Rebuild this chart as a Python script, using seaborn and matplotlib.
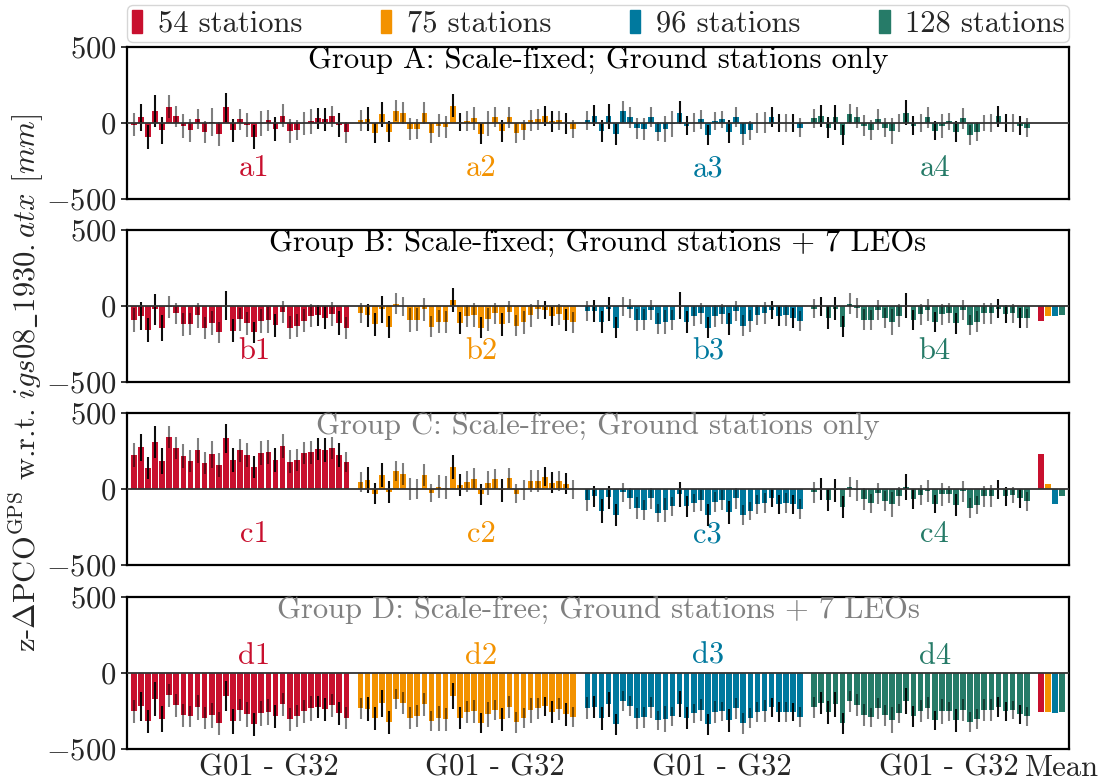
#!/usr/bin/env python3
"""
z-PCO estimates of the GPS satellites for four network sizes,
four solution groups, with mean values per network.
"""

import numpy as np
import pandas as pd
import matplotlib
matplotlib.use("Agg")
import matplotlib.pyplot as plt
import seaborn as sns

sns.set_style("white")
plt.rcParams['font.family'] = ['cmr10', 'DejaVu Serif']
plt.rcParams['mathtext.fontset'] = 'cm'
plt.rcParams['axes.formatter.use_mathtext'] = True
plt.rcParams['axes.unicode_minus'] = True

# ---------------------------------------------------------------------------
# data [mm]: 31 satellites (G01 - G32) per network, 4 networks per group
# ---------------------------------------------------------------------------
stations = ['54 stations', '75 stations', '96 stations', '128 stations']
colors = ['#c8102e', '#f39200', '#00799e', '#267b68']
group_titles = ['Group A: Scale-fixed; Ground stations only',
                'Group B: Scale-fixed; Ground stations + 7 LEOs',
                'Group C: Scale-free; Ground stations only',
                'Group D: Scale-free; Ground stations + 7 LEOs']
title_colors = ['black', 'black', '#808080', '#808080']
panel_letters = ['a', 'b', 'c', 'd']
xtick_labels = ['G01 - G32', 'G01 - G32', 'G01 - G32', 'G01 - G32', 'Mean']

# Group A
a1 = [-10, 37, -91, 76, -48, 108, 43, -20, -48, 24, -61, 5, -72, 102, -48, 24,
      -13, -91, -3, 17, -41, 48, -52, -48, -2, 11, 30, 24, 43, -13, -61]
a1_err = [75, 89, 80, 105, 87, 73, 70, 78, 74, 65, 72, 92, 80, 95, 76, 70,
          78, 78, 83, 70, 80, 75, 77, 65, 74, 83, 68, 76, 70, 80, 70]
a2 = [17, 24, -65, 56, -56, 82, 65, -39, -39, 65, -65, -17, -26, 115, 5, 11,
      30, -74, -3, 37, -52, 37, -65, -48, 17, 24, 48, 11, 17, -3, -39]
a2_err = [70, 78, 65, 85, 70, 70, 70, 72, 68, 70, 65, 76, 70, 78, 59, 65,
          74, 67, 80, 65, 72, 70, 68, 65, 70, 68, 67, 70, 65, 72, 60]
a3 = [17, 48, -52, 43, -74, 76, 37, -35, -39, 37, -56, -39, -5, 69, -17, 3,
      24, -78, 11, 24, -56, 37, -74, -48, 0, 2, 37, 0, 0, 0, -30]
a3_err = [65, 70, 70, 80, 70, 67, 67, 70, 72, 65, 65, 83, 85, 78, 65, 62,
          62, 67, 60, 58, 77, 65, 72, 63, 65, 70, 65, 60, 60, 62, 62]
a4 = [30, 48, -30, 37, -78, 61, 37, -17, -43, 24, -30, -52, 0, 69, -17, 0,
      37, -52, -17, 11, -56, 30, -78, -56, 0, 0, 43, 0, 0, -17, -30]
a4_err = [65, 72, 70, 83, 65, 67, 67, 70, 66, 70, 63, 87, 58, 81, 62, 62,
          70, 63, 79, 58, 67, 68, 65, 62, 55, 62, 70, 58, 56, 62, 60]
a_mean = [-2, 3, -1, 1]

# Group B
b1 = [-91, -65, -156, -22, -143, -5, -48, -119, -119, -61, -143, -113, -174,
      2, -163, -87, -113, -174, -98, -91, -126, -39, -143, -130, -98, -65,
      -61, -78, -54, -113, -143]
b1_err = [79, 91, 79, 104, 85, 74, 70, 76, 74, 81, 72, 78, 72, 95, 76, 76,
          76, 72, 78, 85, 76, 72, 76, 76, 76, 76, 70, 76, 78, 80, 72]
b2 = [-48, -61, -119, -22, -137, 15, -3, -91, -91, -22, -137, -104, -108, 37,
      -113, -65, -61, -143, -87, -48, -119, -39, -130, -108, -61, -22, -26,
      -69, -54, -91, -108]
b2_err = [67, 76, 76, 87, 72, 68, 65, 78, 76, 74, 70, 76, 72, 79, 72, 72,
          78, 68, 76, 70, 76, 70, 70, 76, 74, 62, 62, 65, 68, 74, 67]
b3 = [-33, -33, -104, -17, -143, -3, -17, -91, -91, -26, -117, -104, -91, 2,
      -104, -65, -48, -143, -65, -54, -117, -33, -130, -98, -61, -48, -26,
      -65, -61, -78, -98]
b3_err = [68, 70, 74, 79, 68, 65, 65, 72, 70, 65, 70, 79, 65, 87, 74, 67,
          70, 68, 72, 65, 74, 65, 70, 70, 65, 72, 60, 67, 70, 65, 68]
b4 = [-17, -3, -78, -17, -135, 15, -13, -91, -91, -26, -82, -104, -65, 3,
      -91, -54, -26, -108, -54, -48, -113, -26, -126, -104, -48, -48, -17,
      -54, -48, -78, -82]
b4_err = [65, 65, 76, 74, 72, 70, 65, 68, 67, 68, 66, 87, 76, 81, 67, 68,
          70, 66, 70, 67, 70, 68, 68, 70, 70, 70, 65, 58, 62, 68, 65]
b_mean = [-98, -69, -69, -59]

# Group C
c1 = [224, 276, 139, 308, 184, 341, 269, 217, 184, 256, 171, 230, 158, 334,
      191, 256, 224, 145, 236, 243, 191, 282, 178, 191, 236, 243, 263, 256,
      269, 224, 178]
c1_err = [76, 89, 72, 105, 85, 72, 74, 79, 70, 82, 72, 89, 76, 95, 76, 76,
          78, 74, 81, 78, 78, 79, 76, 70, 72, 76, 72, 81, 72, 78, 68]
c2 = [48, 61, -30, 93, -22, 119, 100, 0, 0, 93, -26, 15, 9, 145, 28, 48, 67,
      -35, 41, 67, -9, 74, -30, -9, 54, 54, 80, 41, 54, 35, -3]
c2_err = [65, 85, 70, 81, 72, 67, 72, 70, 67, 72, 60, 76, 76, 81, 72, 68,
          70, 68, 78, 65, 76, 67, 65, 65, 74, 74, 62, 68, 65, 70, 65]
c3 = [-74, -48, -145, -54, -171, -22, -61, -126, -139, -61, -158, -139, -113,
      -35, -113, -93, -74, -171, -87, -74, -152, -61, -171, -145, -100, -93,
      -61, -100, -93, -100, -132]
c3_err = [72, 70, 78, 76, 72, 63, 68, 72, 67, 68, 61, 81, 63, 83, 70, 61,
          70, 72, 67, 65, 76, 68, 68, 62, 62, 65, 58, 62, 65, 62, 65]
c4 = [-22, -2, -74, -9, -119, 13, -9, -67, -93, -28, -80, -100, -48, 13, -67,
      -41, -15, -100, -35, -35, -106, -15, -126, -106, -48, -48, -3, -48, -41,
      -61, -80]
c4_err = [68, 72, 72, 76, 70, 63, 67, 72, 63, 70, 68, 81, 61, 87, 67, 65,
          72, 60, 76, 58, 70, 70, 65, 60, 70, 72, 65, 61, 54, 62, 62]
c_mean = [230, 35, -100, -48]

# Group D
d1 = [-252, -219, -318, -172, -305, -146, -212, -278, -285, -225, -298, -278,
      -331, -152, -318, -245, -272, -338, -265, -258, -285, -206, -305, -285,
      -252, -232, -225, -239, -212, -265, -298]
d1_err = [77, 94, 77, 110, 85, 75, 77, 75, 70, 81, 72, 82, 77, 97, 81, 74,
          81, 74, 83, 85, 77, 74, 77, 72, 75, 81, 71, 75, 75, 74, 72]
d2 = [-232, -239, -298, -199, -325, -172, -199, -298, -285, -206, -318, -298,
      -305, -152, -298, -258, -252, -331, -272, -245, -305, -225, -325, -298,
      -245, -232, -219, -258, -239, -272, -292]
d2_err = [70, 80, 77, 88, 75, 66, 72, 72, 72, 74, 66, 83, 75, 83, 72, 72,
          77, 66, 81, 66, 77, 71, 70, 66, 81, 70, 62, 72, 72, 74, 66]
d3 = [-232, -225, -298, -206, -338, -186, -219, -298, -292, -225, -312, -305,
      -285, -206, -298, -265, -245, -338, -258, -252, -312, -232, -331, -298,
      -258, -252, -225, -258, -258, -258, -292]
d3_err = [72, 71, 74, 81, 68, 66, 66, 71, 68, 68, 64, 85, 63, 86, 72, 61,
          74, 68, 72, 63, 77, 70, 70, 66, 66, 72, 62, 66, 66, 60, 66]
d4 = [-225, -199, -258, -206, -331, -186, -212, -278, -292, -232, -278, -312,
      -265, -186, -285, -252, -232, -312, -252, -252, -312, -245, -325, -305,
      -245, -245, -225, -252, -245, -272, -285]
d4_err = [68, 74, 77, 81, 70, 68, 72, 72, 64, 70, 70, 86, 61, 86, 70, 72,
          72, 64, 81, 61, 74, 74, 66, 66, 71, 74, 66, 61, 59, 64, 61]
d_mean = [-258, -258, -265, -258]

# error-bar shade per satellite (True: black, False: grey)
err_dark = [False, True, True, True, True, False, False, False, False, False,
            False, False, False, True, True, False, False, True, False, False,
            True, False, False, False, False, False, True, True, False, True,
            False]

groups = [
    ([a1, a2, a3, a4], [a1_err, a2_err, a3_err, a4_err], a_mean),
    ([b1, b2, b3, b4], [b1_err, b2_err, b3_err, b4_err], b_mean),
    ([c1, c2, c3, c4], [c1_err, c2_err, c3_err, c4_err], c_mean),
    ([d1, d2, d3, d4], [d1_err, d2_err, d3_err, d4_err], d_mean),
]

N_SAT = 31
BLOCK = 32  # 31 satellites + one gap slot


def build_frame(vals, errs, means):
    rows = []
    for k, (v, e) in enumerate(zip(vals, errs)):
        for i in range(N_SAT):
            rows.append(dict(pos=k * BLOCK + i, val=v[i], err=e[i],
                             stations=stations[k], dark=err_dark[i],
                             mean=False))
    for k, m in enumerate(means):
        rows.append(dict(pos=4 * BLOCK + k, val=m, err=np.nan,
                         stations=stations[k], dark=True, mean=True))
    return pd.DataFrame(rows)


fig = plt.figure(figsize=(11.02, 7.82), dpi=100)

FS = 22
left, width = 127 / 1102, 942 / 1102
tops = [47, 230, 413, 597]
height = 152 / 782

axes = []
for p, (vals, errs, means) in enumerate(groups):
    bottom = 1 - (tops[p] + 152) / 782
    ax = fig.add_axes([left, bottom, width, height])
    axes.append(ax)
    df = build_frame(vals, errs, means)

    sns.barplot(data=df, x='pos', y='val', hue='stations',
                hue_order=stations, palette=colors, native_scale=True,
                dodge=False, width=0.8, errorbar=None, saturation=1,
                legend=False, linewidth=0, ax=ax)

    sat = df[~df['mean']]
    for dark, sub in sat.groupby('dark'):
        ax.vlines(sub['pos'], sub['val'] - sub['err'], sub['val'] + sub['err'],
                  colors='black', alpha=0.95 if dark else 0.5,
                  linewidth=1.5, zorder=4)

    ax.axhline(0, color='#333333', linewidth=1.3, zorder=5)
    ax.set_xlim(-0.95, 4 * BLOCK + 3.95)
    ax.set_ylim(-500, 500)
    ax.set_yticks([-500, 0, 500])
    ax.set_xlabel('')
    ax.set_ylabel('')
    ax.tick_params(axis='y', labelsize=FS, direction='out', length=4,
                   width=1.3, left=True)
    for s in ax.spines.values():
        s.set_visible(True)
        s.set_linewidth(1.6)
        s.set_color('black')

    ax.text(0.5, 0.915, group_titles[p], transform=ax.transAxes,
            ha='center', va='center', fontsize=FS, color=title_colors[p])

    label_y = 110 if p == 3 else -300
    for k in range(4):
        ax.text(k * BLOCK + 17, label_y, f'{panel_letters[p]}{k + 1}',
                ha='center', va='center', fontsize=FS, color=colors[k])

    if p == 3:
        ax.set_xticks([k * BLOCK + 19 for k in range(4)] + [4 * BLOCK + 3])
        ax.set_xticklabels(xtick_labels, fontsize=FS)
        ax.tick_params(axis='x', length=0, pad=4)
    else:
        ax.set_xticks([])

handles = [plt.Rectangle((0, 0), 1, 1, color=c) for c in colors]
axes[0].legend(handles, stations, loc='lower left', ncol=4, mode='expand',
               bbox_to_anchor=(0, 1.03, 1, 0.2), borderaxespad=0,
               fontsize=FS, frameon=True, fancybox=True, edgecolor='#cccccc',
               handlelength=0.35, handleheight=0.8, handletextpad=0.5,
               borderpad=0.15, columnspacing=1.0)

fig.text(0.023, 0.51,
         r'z-$\Delta$PCO$^{\mathrm{GPS}}$ w.r.t. '
         r'$\mathit{igs08\_1930.atx}$ $[mm]$',
         rotation=90, ha='center', va='center', fontsize=FS)

fig.savefig('out.png', dpi=100)
